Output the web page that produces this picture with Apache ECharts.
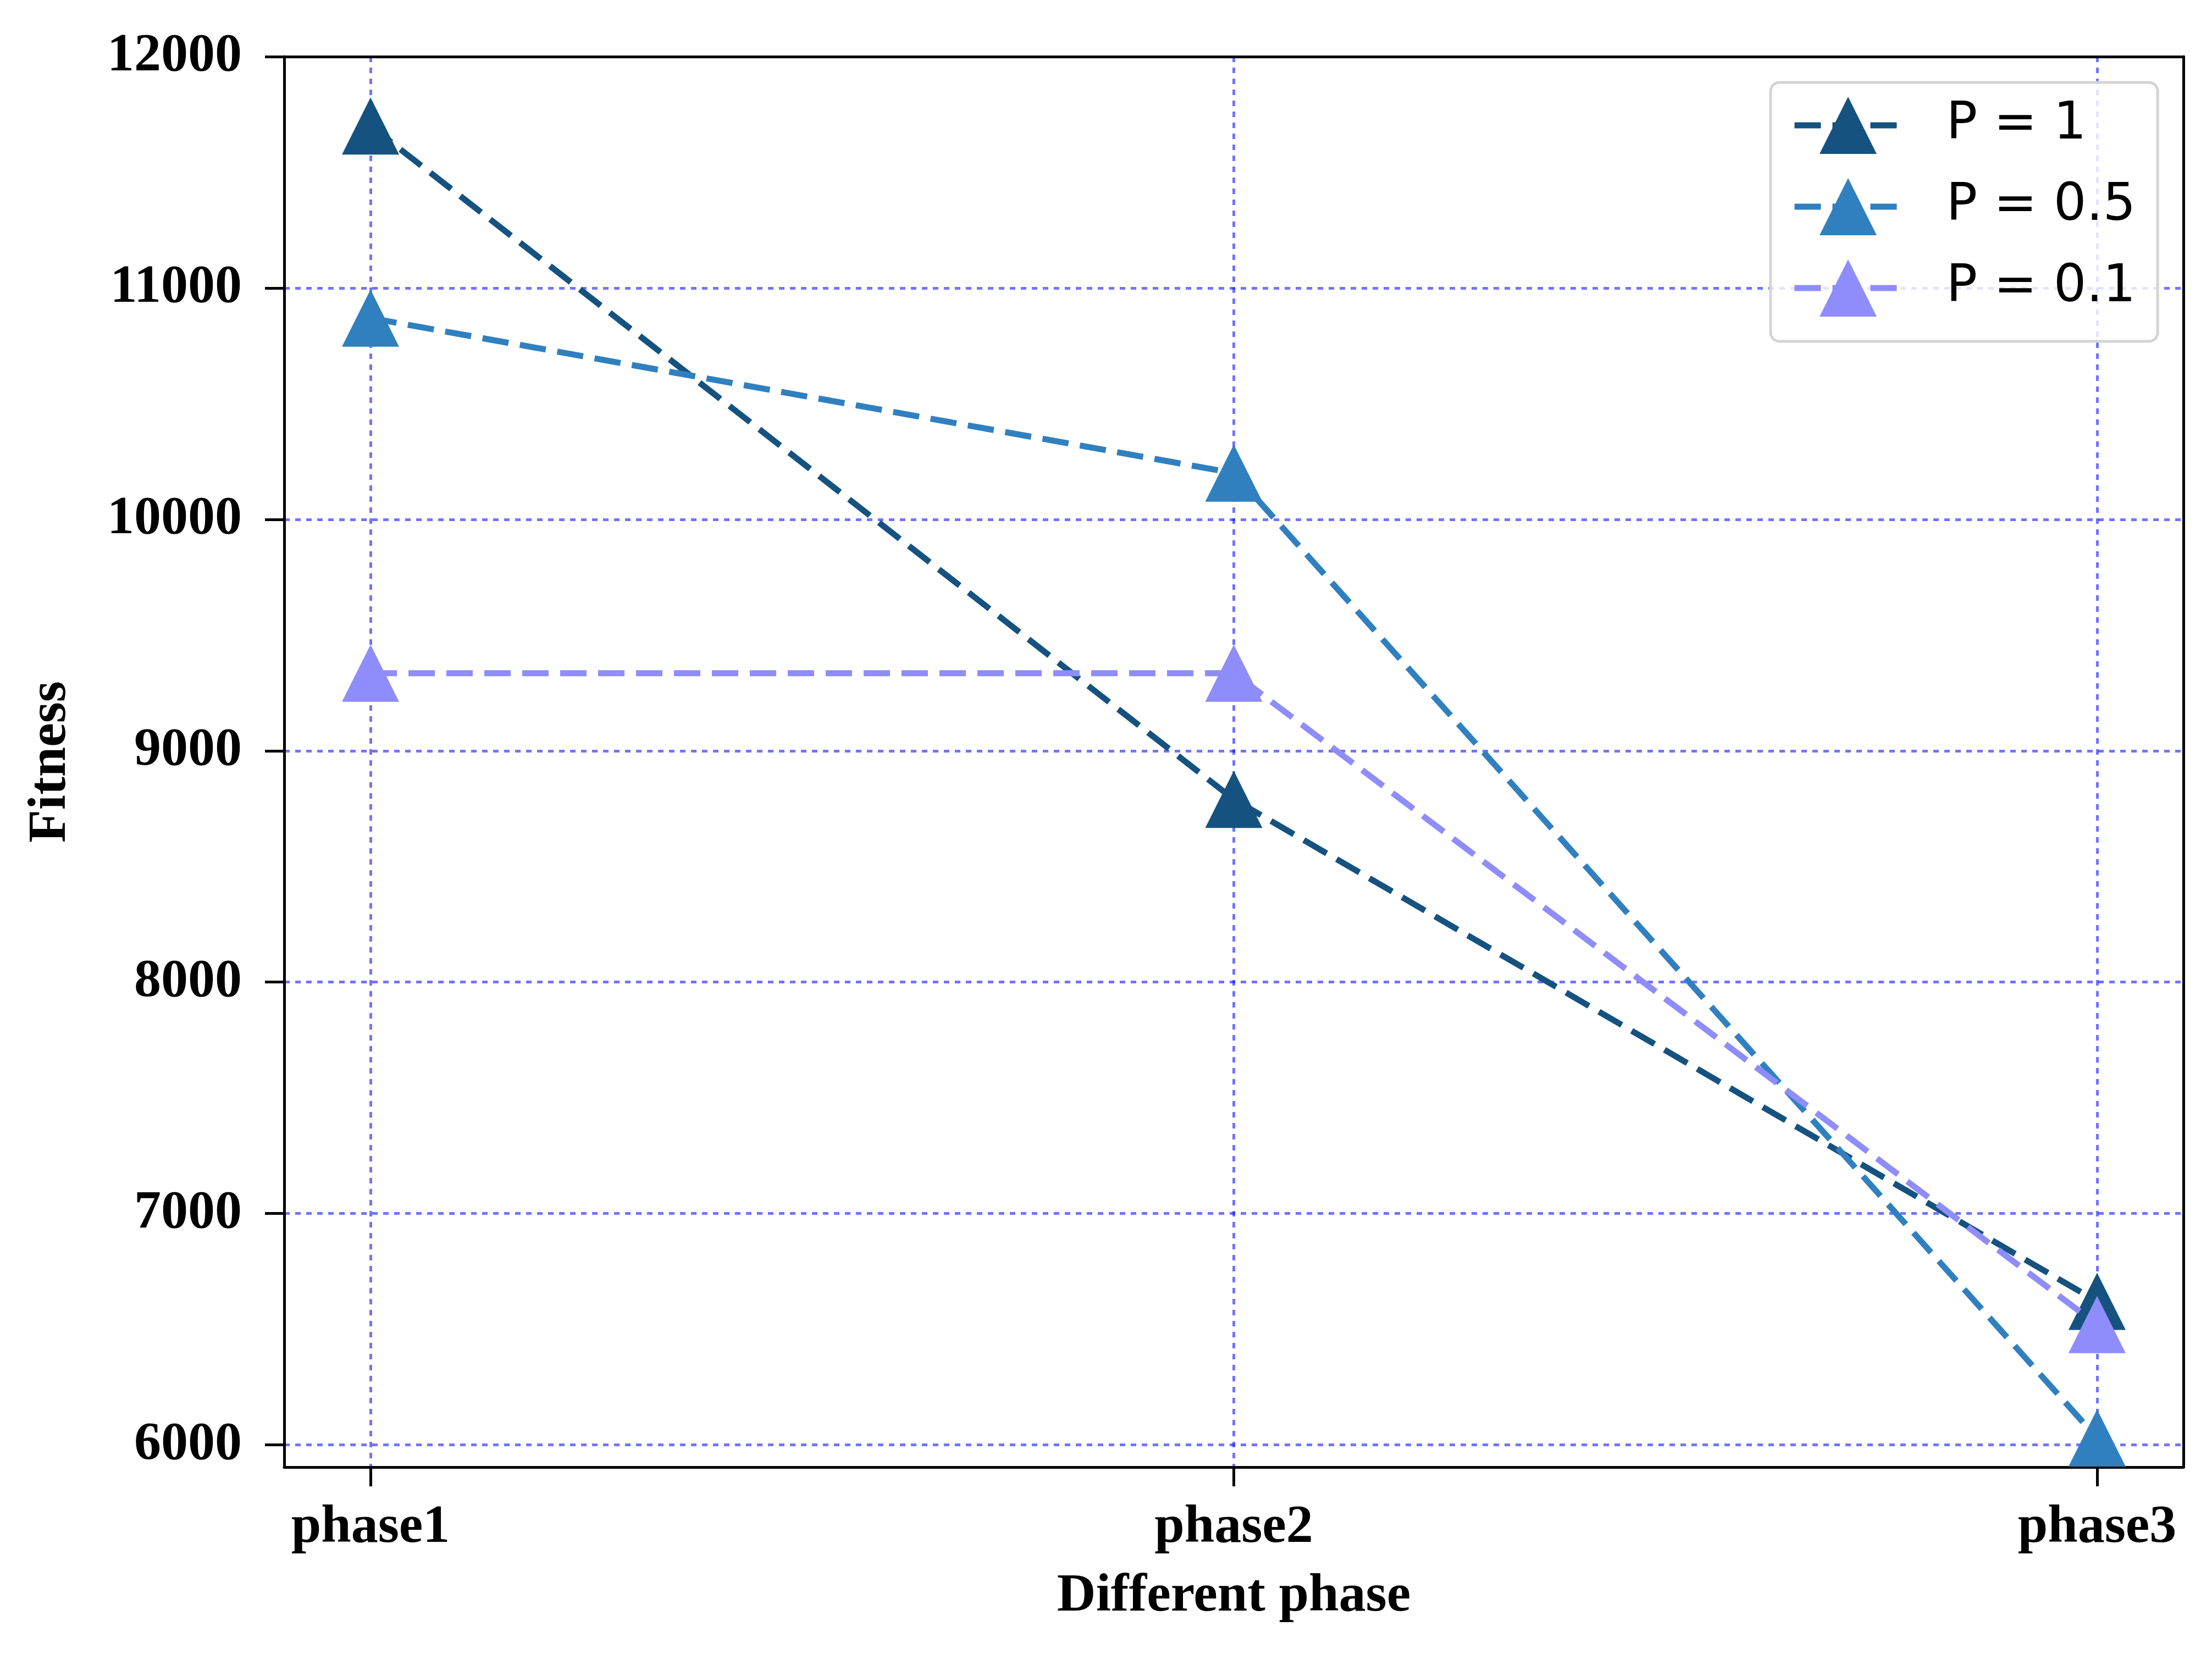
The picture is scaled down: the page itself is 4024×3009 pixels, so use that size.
<!DOCTYPE html>
<html>
<head>
<meta charset="utf-8">
<script src="https://cdn.jsdelivr.net/npm/echarts@6/dist/echarts.min.js"></script>
<style>
  html, body { margin: 0; padding: 0; background: #fff; }
  #main { width: 4024px; height: 3009px; }
</style>
</head>
<body>
<div id="main"></div>
<script>
const phases = ["phase1", "phase2", "phase3"];
const seriesNames = ["P = 1", "P = 0.5", "P = 0.1"];
const fitnessP1 = [11700, 8790, 6620];
const fitnessP05 = [10870, 10200, 6030];
const fitnessP01 = [9335, 9335, 6520];
const yTicks = [6000, 7000, 8000, 9000, 10000, 11000, 12000];
const xTicks = [0, 1, 2];

const colors = ["#15527f", "#3080c0", "#8f8cfb"];
const serif = "Liberation Serif";

function toPoints(values) {
  return values.map((v, i) => [i, v]);
}

const chart = echarts.init(document.getElementById("main"), null, { renderer: "canvas" });

const axisFont = { fontFamily: serif, fontWeight: "bold", fontSize: 98, color: "#000" };
const gridLine = { color: "rgba(0,0,255,0.55)", width: 5, type: [10, 10] };
const spine = { show: true, onZero: false, lineStyle: { color: "#000", width: 5 } };
const tickStyle = { color: "#000", width: 5 };
const dash = [48, 21];

const option = {
  animation: false,
  backgroundColor: "#fff",
  grid: {
    left: 517,
    right: 52,
    top: 103,
    bottom: 340,
  },
  legend: {
    orient: "vertical",
    left: 3221,
    top: 150,
    data: seriesNames,
    itemWidth: 195,
    itemHeight: 130,
    itemGap: 44,
    padding: [26, 40, 45, 38],
    borderRadius: 16,
    borderColor: "#d4d4d4",
    borderWidth: 5,
    backgroundColor: "rgba(255,255,255,0.8)",
    lineStyle: { width: 11, type: dash },
    textStyle: {
      fontFamily: "DejaVu Sans",
      fontSize: 94,
      color: "#000",
      padding: [0, 0, 0, 76],
    },
  },
  xAxis: [
    {
      type: "value",
      min: -0.1,
      max: 2.1,
      name: "Different phase",
      nameLocation: "middle",
      nameGap: 187,
      nameTextStyle: axisFont,
      axisLine: spine,
      axisTick: { show: true, customValues: xTicks, length: 35, lineStyle: tickStyle },
      axisLabel: {
        customValues: xTicks,
        margin: 62,
        formatter: (v) => phases[Math.round(v)],
        ...axisFont,
      },
      splitLine: { show: true, lineStyle: gridLine },
    },
    {
      // top spine
      type: "value",
      position: "top",
      min: -0.1,
      max: 2.1,
      axisLine: spine,
      axisTick: { show: false },
      axisLabel: { show: false },
      splitLine: { show: false },
    },
  ],
  yAxis: [
    {
      type: "value",
      min: 5904,
      max: 12000,
      name: "Fitness",
      nameLocation: "middle",
      nameGap: 375,
      nameTextStyle: axisFont,
      axisLine: spine,
      axisTick: { show: true, customValues: yTicks, length: 35, lineStyle: tickStyle },
      axisLabel: { customValues: yTicks, margin: 77, formatter: (v) => String(v), ...axisFont },
      splitLine: { show: true, lineStyle: gridLine },
    },
    {
      // right spine
      type: "value",
      position: "right",
      min: 5904,
      max: 12000,
      axisLine: spine,
      axisTick: { show: false },
      axisLabel: { show: false },
      splitLine: { show: false },
    },
  ],
  series: [fitnessP1, fitnessP05, fitnessP01].map((vals, i) => ({
    name: seriesNames[i],
    type: "line",
    data: toPoints(vals),
    symbol: "triangle",
    symbolSize: 104,
    color: colors[i],
    itemStyle: { color: colors[i] },
    lineStyle: { color: colors[i], width: 11, type: dash },
    clip: false,
    z: 3 + i,
  })),
};

chart.setOption(option);
</script>
</body>
</html>
